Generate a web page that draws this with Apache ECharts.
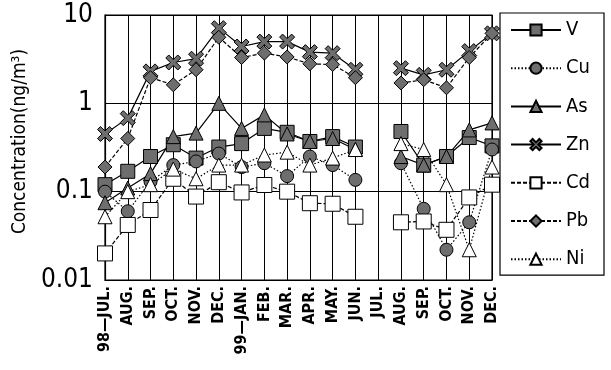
<!DOCTYPE html>
<html><head><meta charset="utf-8">
<script src="https://cdn.jsdelivr.net/npm/echarts@6/dist/echarts.min.js"></script>
<style>html,body{margin:0;padding:0;background:#fff}#c{width:611px;height:370px}</style>
</head><body><div id="c"></div>
<script>
const categories = ['1998-07','1998-08','1998-09','1998-10','1998-11','1998-12','1999-01','1999-02','1999-03','1999-04','1999-05','1999-06','1999-07','1999-08','1999-09','1999-10','1999-11','1999-12'];
const tickLabels = ['98\u2014JUL.','AUG.','SEP.','OCT.','NOV.','DEC.','99\u2014JAN.','FEB.','MAR.','APR.','MAY.','JUN.','JUL.','AUG.','SEP.','OCT.','NOV.','DEC.'];
const yTicks = [0.01, 0.1, 1, 10];
const V  = [0.12, 0.17, 0.25, 0.34, 0.24, 0.32, 0.35, 0.52, 0.47, 0.37, 0.42, 0.32, null, 0.48, 0.2, 0.25, 0.41, 0.33];
const Cu = [0.1, 0.06, 0.13, 0.2, 0.22, 0.27, 0.19, 0.21, 0.15, 0.25, 0.2, 0.136, null, 0.21, 0.064, 0.022, 0.045, 0.3];
const As = [0.075, 0.11, 0.16, 0.42, 0.46, 1.0, 0.52, 0.74, 0.45, 0.37, 0.4, 0.3, null, 0.25, 0.2, 0.25, 0.5, 0.6];
const Zn = [0.45, 0.68, 2.3, 2.9, 3.2, 7.1, 4.4, 5.0, 5.0, 3.8, 3.7, 2.4, null, 2.5, 2.1, 2.4, 3.9, 6.2];
const Cd = [0.02, 0.042, 0.062, 0.14, 0.088, 0.128, 0.098, 0.119, 0.1, 0.074, 0.073, 0.052, null, 0.045, 0.046, 0.037, 0.086, 0.12];
const Pb = [0.19, 0.4, 1.95, 1.62, 2.4, 5.6, 3.3, 3.7, 3.35, 2.8, 2.75, 1.95, null, 1.7, 1.85, 1.5, 3.3, 6.2];
const Ni = [0.052, 0.1, 0.12, 0.18, 0.14, 0.2, 0.2, 0.26, 0.28, 0.2, 0.24, 0.3, null, 0.35, 0.3, 0.12, 0.022, 0.19];

const FONT = "'Liberation Sans Narrow','DejaVu Sans Condensed','Liberation Sans',sans-serif";
const GRAY = '#6e6e6e';
const XSYM = 'path://M2,0 L5,3 L8,0 L10,2 L7,5 L10,8 L8,10 L5,7 L2,10 L0,8 L3,5 L0,2 Z';

function mk(name, data, symbol, size, filled, lineType) {
  return {
    name, type: 'line', data, symbol, symbolSize: size, connectNulls: false,
    lineStyle: {color: '#000', width: 1.2, type: lineType},
    itemStyle: {color: filled ? GRAY : '#fff', borderColor: '#000', borderWidth: 1},
    emphasis: {disabled: true}
  };
}

const chart = echarts.init(document.getElementById('c'), null, {renderer: 'canvas'});
chart.setOption({
  animation: false,
  backgroundColor: '#fff',
  grid: {left: 105, right: 119, top: 15, bottom: 90, show: true, borderColor: '#000', borderWidth: 1.2},
  legend: {
    orient: 'vertical', left: 500, top: 13,
    data: ['V','Cu','As','Zn','Cd','Pb','Ni'],
    itemWidth: 50, itemHeight: 14, itemGap: 18.2,
    padding: [7, 14, 6, 10],
    borderColor: '#000', borderWidth: 1.2,
    textStyle: {fontFamily: FONT, fontSize: 20, color: '#000', width: 44},
    selectedMode: false
  },
  xAxis: {
    type: 'category', data: categories, boundaryGap: false,
    axisLine: {lineStyle: {color: '#000', width: 1.2}},
    axisTick: {show: false},
    splitLine: {show: true, lineStyle: {color: '#000', width: 1}},
    axisLabel: {
      rotate: 90, interval: 0, margin: 6, color: '#000',
      fontFamily: FONT, fontSize: 16, fontWeight: 'bold',
      formatter: (v, i) => tickLabels[i]
    }
  },
  yAxis: {
    type: 'log', logBase: 10, min: yTicks[0], max: yTicks[yTicks.length-1],
    name: 'Concentration(ng/m\u00b3)', nameLocation: 'middle', nameGap: 67,
    nameTextStyle: {fontFamily: FONT, fontSize: 19, color: '#000', padding: [0, 0, 0, 12]},
    axisLine: {show: true, lineStyle: {color: '#000', width: 1.2}},
    axisTick: {show: false},
    splitLine: {show: true, lineStyle: {color: '#000', width: 1}},
    axisLabel: {color: '#000', fontFamily: FONT, fontSize: 26, margin: 12,
      formatter: v => String(+v.toPrecision(3))}
  },
  series: [
    mk('V', V, 'rect', 14, true, 'solid'),
    mk('Cu', Cu, 'circle', 13, true, [1.5, 2]),
    mk('As', As, 'triangle', 14, true, 'solid'),
    mk('Zn', Zn, XSYM, 15, true, 'solid'),
    mk('Cd', Cd, 'rect', 15, false, [4, 2]),
    mk('Pb', Pb, 'diamond', 14, true, [4, 2]),
    mk('Ni', Ni, 'triangle', 14, false, [1.5, 2])
  ]
});
</script></body></html>
